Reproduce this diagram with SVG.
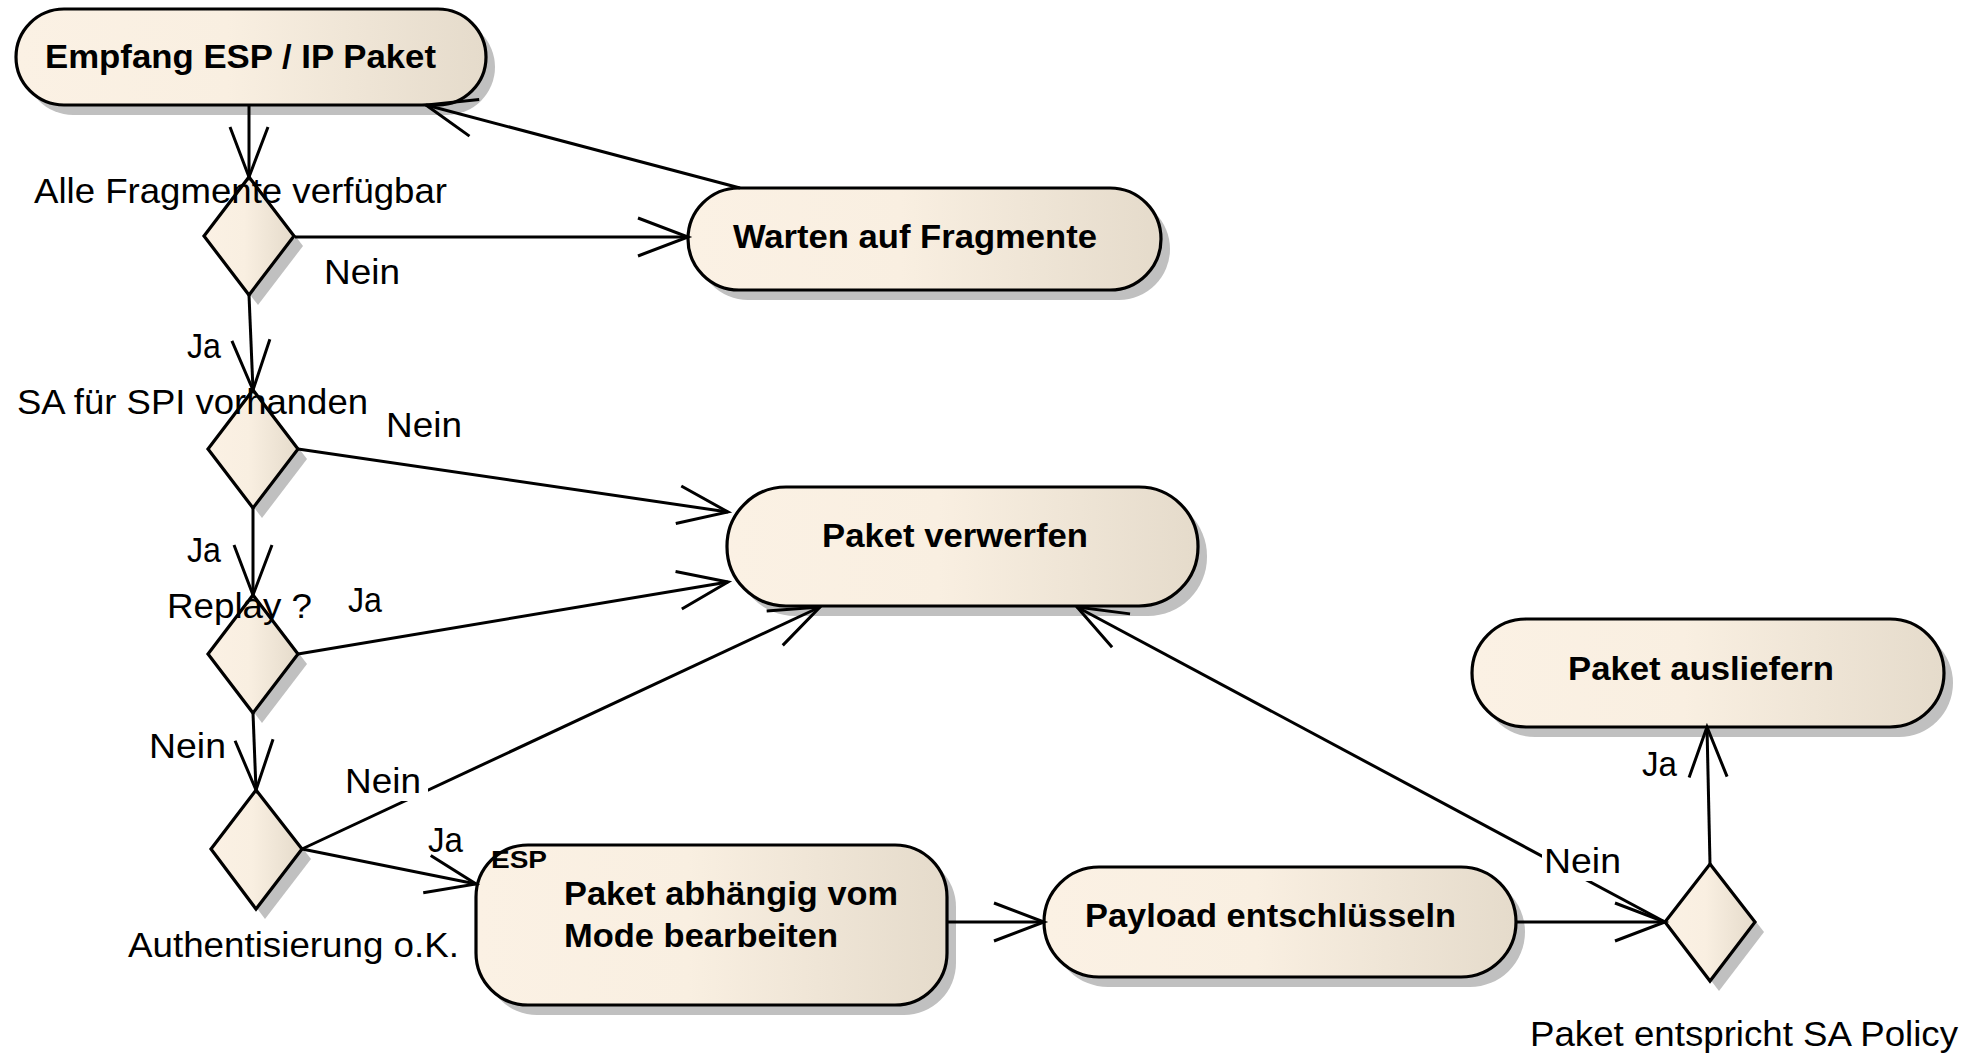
<svg xmlns="http://www.w3.org/2000/svg" width="1982" height="1056" viewBox="0 0 1982 1056">
<style>
.shadow{fill:#c0c0c0}
.node{fill:url(#g);stroke:#000;stroke-width:3.2}
.b{font-family:"Liberation Sans",Arial,sans-serif;font-weight:bold;font-size:34px;fill:#000}
.r{font-family:"Liberation Sans",Arial,sans-serif;font-size:35px;fill:#000}
.c{fill:none;stroke:#000;stroke-width:3;marker-end:url(#arr)}
.bg{fill:#fff}
</style>
<defs>
<linearGradient id="g" x1="0" y1="0" x2="1" y2="0">
<stop offset="0" stop-color="#fbf1e4"/>
<stop offset="0.45" stop-color="#f9efe1"/>
<stop offset="1" stop-color="#e5dbcb"/>
</linearGradient>
<marker id="arr" markerUnits="userSpaceOnUse" markerWidth="60" markerHeight="40" viewBox="0 0 60 40" refX="50" refY="20" orient="auto" overflow="visible">
<path d="M0,1 L50,20 L0,39" fill="none" stroke="#000" stroke-width="3"/>
</marker>
</defs>
<rect width="1982" height="1056" fill="#fff"/>

<g id="n-empfang">
<rect class="shadow" x="25" y="19" width="470" height="96" rx="48"/>
<rect class="node" x="16" y="9" width="470" height="96" rx="48"/>
<text class="b" x="45" y="68" textLength="391" lengthAdjust="spacingAndGlyphs">Empfang ESP / IP Paket</text>
</g>

<g id="n-warten">
<rect class="shadow" x="697" y="198" width="473" height="102" rx="51"/>
<rect class="node" x="688" y="188" width="473" height="102" rx="51"/>
<text class="b" x="733" y="248" textLength="364" lengthAdjust="spacingAndGlyphs">Warten auf Fragmente</text>
</g>

<g id="n-verwerfen">
<rect class="shadow" x="736" y="497" width="471" height="119" rx="59"/>
<rect class="node" x="727" y="487" width="471" height="119" rx="59"/>
<text class="b" x="822" y="547" textLength="266" lengthAdjust="spacingAndGlyphs">Paket verwerfen</text>
</g>

<g id="n-ausliefern">
<rect class="shadow" x="1481" y="629" width="472" height="108" rx="54"/>
<rect class="node" x="1472" y="619" width="472" height="108" rx="54"/>
<text class="b" x="1568" y="680" textLength="266" lengthAdjust="spacingAndGlyphs">Paket ausliefern</text>
</g>

<g id="n-payload">
<rect class="shadow" x="1053" y="877" width="472" height="110" rx="55"/>
<rect class="node" x="1044" y="867" width="472" height="110" rx="55"/>
<text class="b" x="1085" y="927" textLength="371" lengthAdjust="spacingAndGlyphs">Payload entschlüsseln</text>
</g>

<g id="n-mode">
<rect class="shadow" x="485" y="855" width="471" height="160" rx="52"/>
<rect class="node" x="476" y="845" width="471" height="160" rx="52"/>
<text class="b" x="491" y="868" style="font-size:24px" textLength="56" lengthAdjust="spacingAndGlyphs">ESP</text>
<text class="b" x="564" y="905" textLength="334" lengthAdjust="spacingAndGlyphs">Paket abhängig vom</text>
<text class="b" x="564" y="947" textLength="274" lengthAdjust="spacingAndGlyphs">Mode bearbeiten</text>
</g>

<g id="d-fragmente">
<polygon class="shadow" points="258,187 303,246 258,305 213,246"/>
<polygon class="node" points="249,177 294,236 249,295 204,236"/>
<text class="r" x="34" y="203" textLength="413" lengthAdjust="spacingAndGlyphs">Alle Fragmente verfügbar</text>
</g>

<g id="d-sa">
<polygon class="shadow" points="262,400 307,459 262,518 217,459"/>
<polygon class="node" points="253,390 298,449 253,508 208,449"/>
<text class="r" x="17" y="414" textLength="351" lengthAdjust="spacingAndGlyphs">SA für SPI vorhanden</text>
</g>

<g id="d-replay">
<polygon class="shadow" points="262,605 307,664 262,723 217,664"/>
<polygon class="node" points="253,595 298,654 253,713 208,654"/>
<text class="r" x="167" y="618" textLength="145" lengthAdjust="spacingAndGlyphs">Replay ?</text>
</g>

<g id="d-auth">
<polygon class="shadow" points="265,800 311,859 265,919 220,859"/>
<polygon class="node" points="256,790 302,849 256,909 211,849"/>
<text class="r" x="128" y="957" textLength="331" lengthAdjust="spacingAndGlyphs">Authentisierung o.K.</text>
</g>

<g id="d-policy">
<polygon class="shadow" points="1719,874 1764,932 1719,991 1674,932"/>
<polygon class="node" points="1710,864 1755,922 1710,981 1665,922"/>
<text class="r" x="1530" y="1046" textLength="428" lengthAdjust="spacingAndGlyphs">Paket entspricht SA Policy</text>
</g>

<g id="connectors">
<path class="c" d="M249,105 L249,177"/>
<path class="c" d="M295,237 L688,237"/>
<path class="c" d="M740,188 L426,105"/>
<path class="c" d="M249,295 L253,390"/>
<path class="c" d="M298,449 L728,512"/>
<path class="c" d="M253,508 L253,595"/>
<path class="c" d="M298,654 L728,582"/>
<path class="c" d="M253,713 L256,790"/>
<path class="c" d="M302,849 L820,607"/>
<path class="c" d="M302,849 L476,884"/>
<path class="c" d="M948,922 L1044,922"/>
<path class="c" d="M1516,922 L1665,922"/>
<path class="c" d="M1665,922 L1077,607"/>
<path class="c" d="M1710,864 L1707,727"/>
</g>

<g id="connector-labels">
<text class="r" x="324" y="284" textLength="76" lengthAdjust="spacingAndGlyphs">Nein</text>
<text class="r" x="187" y="358" textLength="34" lengthAdjust="spacingAndGlyphs">Ja</text>
<text class="r" x="386" y="437" textLength="76" lengthAdjust="spacingAndGlyphs">Nein</text>
<text class="r" x="187" y="562" textLength="34" lengthAdjust="spacingAndGlyphs">Ja</text>
<text class="r" x="348" y="612" textLength="34" lengthAdjust="spacingAndGlyphs">Ja</text>
<text class="r" x="149" y="758" textLength="77" lengthAdjust="spacingAndGlyphs">Nein</text>
<rect class="bg" x="343" y="766" width="85" height="35"/>
<text class="r" x="345" y="793" textLength="76" lengthAdjust="spacingAndGlyphs">Nein</text>
<text class="r" x="428" y="852" textLength="35" lengthAdjust="spacingAndGlyphs">Ja</text>
<rect class="bg" x="1542" y="846" width="82" height="35"/>
<text class="r" x="1544" y="873" textLength="77" lengthAdjust="spacingAndGlyphs">Nein</text>
<text class="r" x="1642" y="776" textLength="35" lengthAdjust="spacingAndGlyphs">Ja</text>
</g>
</svg>
